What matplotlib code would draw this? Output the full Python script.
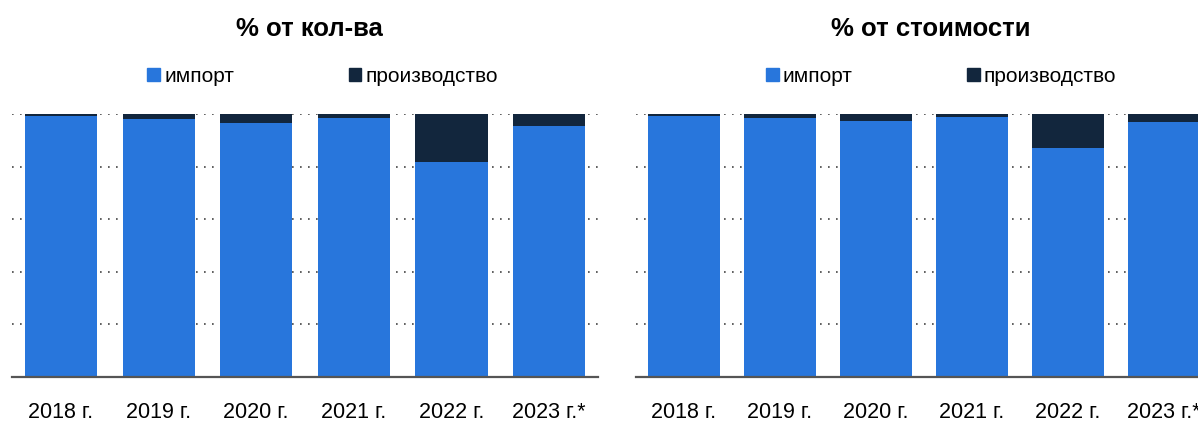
import matplotlib
matplotlib.use("Agg")
import matplotlib.pyplot as plt
from matplotlib.patches import Patch

years = ["2018 г.", "2019 г.", "2020 г.", "2021 г.", "2022 г.", "2023 г.*"]
import_qty = [99.4, 98.2, 96.6, 98.7, 81.9, 95.7]
import_cost = [99.4, 98.5, 97.5, 98.9, 87.1, 97.0]
prod_qty = [100 - v for v in import_qty]
prod_cost = [100 - v for v in import_cost]

C_IMPORT = "#2876dc"
C_PROD = "#12263d"

plt.rcParams["font.family"] = ["Liberation Sans", "DejaVu Sans"]

fig = plt.figure(figsize=(11.98, 4.21), dpi=100)
axes = [
    fig.add_axes([0.0102, 0.1057, 0.4888, 0.6228]),
    fig.add_axes([0.5309, 0.1057, 0.4808, 0.6228]),
]
titles = ["% от кол-ва", "% от стоимости"]
title_x = [0.258, 0.777]
data = [(import_qty, prod_qty), (import_cost, prod_cost)]

for ax, (imp, prod) in zip(axes, data):
    x = range(len(years))
    ax.bar(x, imp, width=0.74, color=C_IMPORT, zorder=2)
    ax.bar(x, prod, width=0.74, bottom=imp, color=C_PROD, zorder=2)
    ax.set_xlim(-0.5, len(years) - 0.5)
    ax.set_ylim(0, 100)
    ax.set_yticks([20, 40, 60, 80, 100])
    ax.yaxis.grid(True, color="#444444", linestyle=(0, (1, 3.8)), linewidth=1.2, zorder=1)
    ax.tick_params(axis="y", length=0, labelleft=False)
    ax.tick_params(axis="x", length=0, pad=18, labelsize=15.5)
    ax.set_xticks(list(x))
    ax.set_xticklabels(years)
    for s in ["top", "right", "left"]:
        ax.spines[s].set_visible(False)
    ax.spines["bottom"].set_color("#555555")
    ax.spines["bottom"].set_linewidth(1.6)
    ax.spines["bottom"].set_zorder(3)
    ax.set_axisbelow(True)
    handles = [Patch(color=C_IMPORT, label="импорт"), Patch(color=C_PROD, label="производство")]
    ax.legend(handles=handles, ncol=2, loc="center", bbox_to_anchor=(0.53, 1.146),
              frameon=False, fontsize=15, handlelength=0.6, handleheight=0.6,
              handletextpad=0.2, columnspacing=5.5)

for tx, title in zip(title_x, titles):
    fig.text(tx, 0.932, title, ha="center", va="center", fontsize=18.5,
             fontweight="bold")

fig.savefig("out.png", dpi=100)
